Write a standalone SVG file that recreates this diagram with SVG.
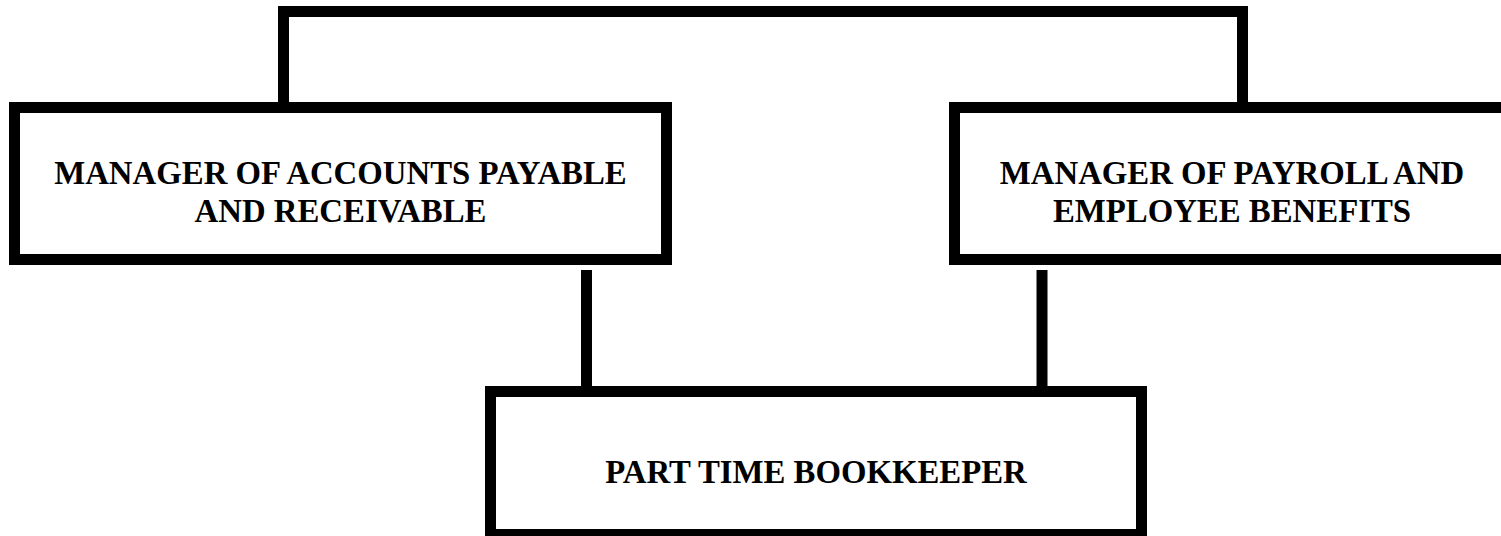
<svg xmlns="http://www.w3.org/2000/svg" width="1501" height="536" viewBox="0 0 1501 536">
  <style>
    .box { fill: #ffffff; stroke: #000000; stroke-width: 11; }
    .link { fill: none; stroke: #000000; stroke-width: 11; stroke-linejoin: miter; stroke-linecap: butt; }
    .label { font-family: "Liberation Serif", "Times New Roman", serif; font-weight: bold; font-size: 32.8px; fill: #000000; text-anchor: middle; }
  </style>
  <rect width="1501" height="536" fill="#ffffff"/>

  <!-- connectors -->
  <g id="connectors">
    <path class="link" d="M283.5,102 V11.5 H1242.5 V102"/>
    <path class="link" d="M586.5,270 V386"/>
    <path class="link" d="M1042,270 V386"/>
  </g>

  <g id="node-accounts">
    <rect class="box" x="14.5" y="107.5" width="652" height="152"/>
    <text class="label" x="340.5" y="184">MANAGER OF ACCOUNTS PAYABLE</text>
    <text class="label" x="340.5" y="222">AND RECEIVABLE</text>
  </g>

  <g id="node-payroll">
    <rect class="box" x="954.5" y="107.5" width="560" height="152"/>
    <text class="label" x="1232" y="184">MANAGER OF PAYROLL AND</text>
    <text class="label" x="1232" y="222">EMPLOYEE BENEFITS</text>
  </g>

  <g id="node-bookkeeper">
    <rect class="box" x="490.5" y="391.5" width="651" height="143"/>
    <text class="label" x="816" y="483">PART TIME BOOKKEEPER</text>
  </g>
</svg>
